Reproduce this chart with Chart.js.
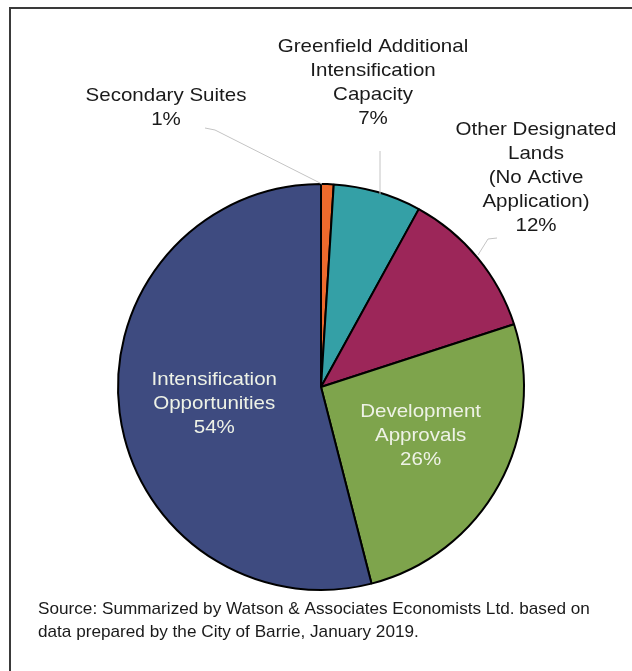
<!DOCTYPE html>
<html lang="en">
<head>
    <meta charset="UTF-8">
    <title>Barrie Growth Capacity</title>
    <script src="https://cdn.jsdelivr.net/npm/chart.js"></script>
    <style>
        body { margin: 0; background: #fff; }
        #wrap { position: relative; width: 632px; height: 671px; }
    </style>
</head>
<body>
<div id="wrap">
    <canvas id="pieChart" width="632" height="671"></canvas>
</div>

<script>
    // data (clockwise from 12 o'clock)
    const categories = ['Secondary Suites', 'Greenfield Additional Intensification Capacity',
        'Other Designated Lands (No Active Application)', 'Development Approvals',
        'Intensification Opportunities'];
    const shares = [1, 7, 12, 26, 54];
    const labelLines = [
        ['Secondary Suites'],
        ['Greenfield Additional', 'Intensification', 'Capacity'],
        ['Other Designated', 'Lands', '(No Active', 'Application)'],
        ['Development', 'Approvals'],
        ['Intensification', 'Opportunities']
    ];
    const sliceColors = ['#ee6a2c', '#34a0a6', '#9c2659', '#7ea44c', '#3e4b80'];
    const sourceNote = [
        'Source: Summarized by Watson & Associates Economists Ltd. based on',
        'data prepared by the City of Barrie, January 2019.'
    ];

    // text stretched a bit wider than Arial, like the original
    function wideText(ctx, txt, x, y, sx) {
        ctx.save();
        ctx.translate(x, y);
        ctx.scale(sx, 1);
        ctx.fillText(txt, 0, 0);
        ctx.restore();
    }

    const labelPlugin = {
        id: 'pieLabels',
        afterDraw(chart) {
            const ctx = chart.ctx;
            const arcs = chart.getDatasetMeta(0).data;
            const cx = arcs[0].x, cy = arcs[0].y;
            const lh = 24;

            ctx.save();
            // frame (top + left only show in the original crop)
            ctx.strokeStyle = '#3a3a3a';
            ctx.lineWidth = 2;
            ctx.beginPath();
            ctx.moveTo(10, 671);
            ctx.lineTo(10, 8);
            ctx.lineTo(632, 8);
            ctx.stroke();

            // leader lines
            ctx.strokeStyle = '#c4c4c4';
            ctx.lineWidth = 1;
            ctx.beginPath();
            ctx.moveTo(cx - 116, cy - 259); ctx.lineTo(cx - 106, cy - 257); ctx.lineTo(cx + 1, cy - 203);
            ctx.moveTo(cx + 59, cy - 236); ctx.lineTo(cx + 59, cy - 193);
            ctx.moveTo(cx + 176, cy - 149); ctx.lineTo(cx + 167, cy - 148); ctx.lineTo(cx + 157, cy - 132);
            ctx.stroke();

            ctx.font = '19px "Liberation Sans", Arial, sans-serif';
            ctx.textAlign = 'center';
            ctx.textBaseline = 'middle';
            const sx = 1.08;

            // outside labels: [index, centre x offset, first line y offset]
            const outside = [[0, -155, -291], [1, 52, -340], [2, 215, -257]];
            ctx.fillStyle = '#1a1a1a';
            outside.forEach(([i, dx, dy]) => {
                const lines = labelLines[i].concat([shares[i] + '%']);
                lines.forEach((t, k) => wideText(ctx, t, cx + dx, cy + dy + k * lh, sx));
            });

            // inside labels placed along each slice's middle angle
            const inside = [[3, 0.56, -30], [4, 0.53, -21]];
            ctx.fillStyle = '#eef2e6';
            inside.forEach(([i, f, shift]) => {
                const a = arcs[i];
                const mid = (a.startAngle + a.endAngle) / 2;
                const px = cx + Math.cos(mid) * a.outerRadius * f;
                const py = cy + Math.sin(mid) * a.outerRadius * f;
                const lines = labelLines[i].concat([shares[i] + '%']);
                lines.forEach((t, k) => wideText(ctx, t, px, py + shift + k * lh, sx));
            });

            // source note
            ctx.fillStyle = '#1a1a1a';
            ctx.font = '17px "Liberation Sans", Arial, sans-serif';
            ctx.textAlign = 'left';
            sourceNote.forEach((t, k) => wideText(ctx, t, 38, 609 + k * 23, 1.01));
            ctx.restore();
        }
    };

    new Chart(document.getElementById('pieChart'), {
        type: 'pie',
        data: {
            labels: categories,
            datasets: [{
                data: shares,
                backgroundColor: sliceColors,
                borderColor: '#000',
                borderWidth: 2
            }]
        },
        options: {
            responsive: false,
            animation: false,
            layout: { padding: { left: 116, right: 106, top: 183, bottom: 80 } },
            plugins: {
                legend: { display: false },
                tooltip: { enabled: false }
            }
        },
        plugins: [labelPlugin]
    });
</script>
</body>
</html>
